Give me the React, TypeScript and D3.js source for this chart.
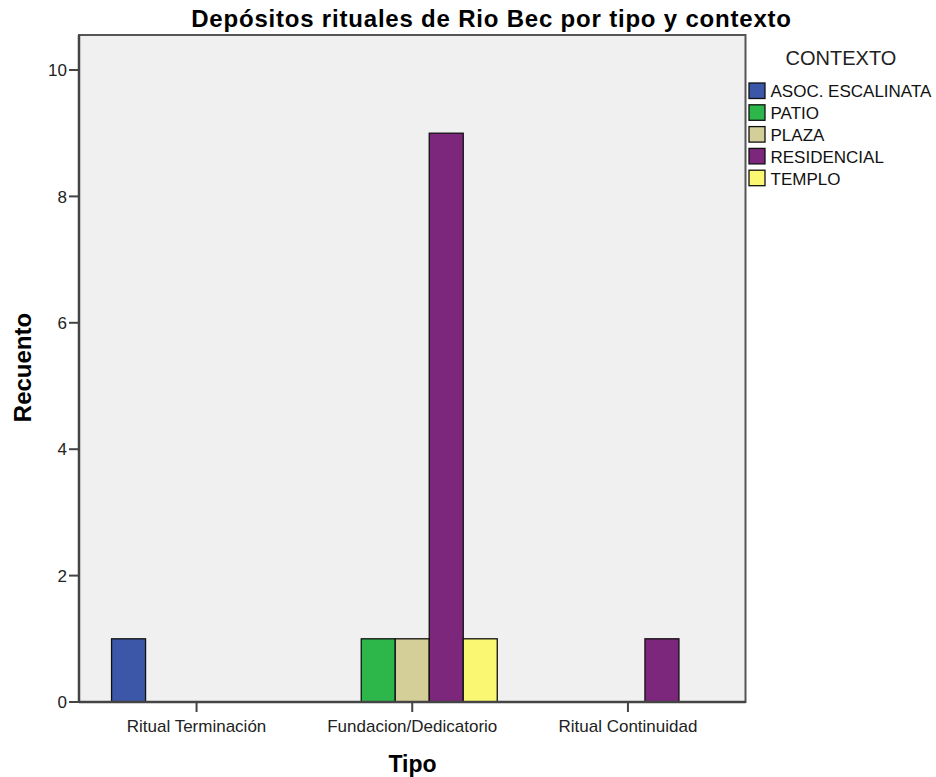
import React from "react";
import * as d3 from "d3";

const categories = ["Ritual Terminación", "Fundacion/Dedicatorio", "Ritual Continuidad"];
const series = ["ASOC. ESCALINATA", "PATIO", "PLAZA", "RESIDENCIAL", "TEMPLO"];
const colors = ["#3C56A8", "#2DB74B", "#D4CF98", "#7C277C", "#FAF772"];
// values[seriesIndex][categoryIndex]
const asocValues = [1, 0, 0];
const patioValues = [0, 1, 0];
const plazaValues = [0, 1, 0];
const residencialValues = [0, 9, 1];
const temploValues = [0, 1, 0];
const values = [asocValues, patioValues, plazaValues, residencialValues, temploValues];
const yTicks = [0, 2, 4, 6, 8, 10];

const W = 936;
const H = 777;
const left = 79;
const right = 745.5;
const top = 35;
const bottom = 702;

export default function App() {
  const x = d3.scalePoint<string>().domain(categories).range([left, right]).padding(0.545);
  const y = d3.scaleLinear().domain([0, 10]).range([bottom, 70]);
  const barW = 34;
  const groupW = barW * series.length;
  const font = "'Liberation Sans', Arial, sans-serif";

  return (
    <svg width={W} height={H} style={{ position: "absolute", left: 0, top: 0, background: "#fff" }} fontFamily={font}>
      <text x={491.5} y={27} textAnchor="middle" fontSize={24} fontWeight="bold" letterSpacing={0.8}>
        Depósitos rituales de Rio Bec por tipo y contexto
      </text>
      <rect x={left} y={top} width={right - left} height={bottom - top} fill="#F0F0F0" stroke="#555" strokeWidth={2} />

      {values.map((vals, si) =>
        vals.map((v, ci) =>
          v > 0 ? (
            <rect
              key={`${si}-${ci}`}
              x={(x(categories[ci]) as number) - groupW / 2 + si * barW}
              y={y(v)}
              width={barW}
              height={y(0) - y(v)}
              fill={colors[si]}
              stroke="#111"
              strokeWidth={1.3}
            />
          ) : null
        )
      )}

      {/* axes */}
      <line x1={left} x2={left} y1={top} y2={bottom} stroke="#444" strokeWidth={2.5} />
      <line x1={left} x2={right} y1={bottom} y2={bottom} stroke="#444" strokeWidth={2.5} />

      {yTicks.map((t) => (
        <g key={t}>
          <line x1={left - 10} x2={left} y1={y(t)} y2={y(t)} stroke="#444" strokeWidth={2} />
          <text x={left - 12} y={y(t)} dy="0.36em" textAnchor="end" fontSize={17} fill="#222">
            {t}
          </text>
        </g>
      ))}

      {categories.map((c) => (
        <g key={c}>
          <line x1={x(c)} x2={x(c)} y1={bottom} y2={bottom + 10} stroke="#444" strokeWidth={2} />
          <text x={x(c)} y={732} textAnchor="middle" fontSize={17} fill="#222">
            {c}
          </text>
        </g>
      ))}

      <text x={412.5} y={772} textAnchor="middle" fontSize={23} fontWeight="bold">
        Tipo
      </text>
      <text transform="translate(31,367.5) rotate(-90)" textAnchor="middle" fontSize={24} fontWeight="bold">
        Recuento
      </text>

      {/* legend */}
      <text x={841} y={65} textAnchor="middle" fontSize={20} fill="#222">
        CONTEXTO
      </text>
      {series.map((s, i) => (
        <g key={s} transform={`translate(749, ${83 + i * 21.8})`}>
          <rect x={0} y={0} width={16} height={15.5} fill={colors[i]} stroke="#111" strokeWidth={1.3} />
          <text x={21.5} y={14.3} fontSize={17} fill="#111">
            {s}
          </text>
        </g>
      ))}
    </svg>
  );
}
